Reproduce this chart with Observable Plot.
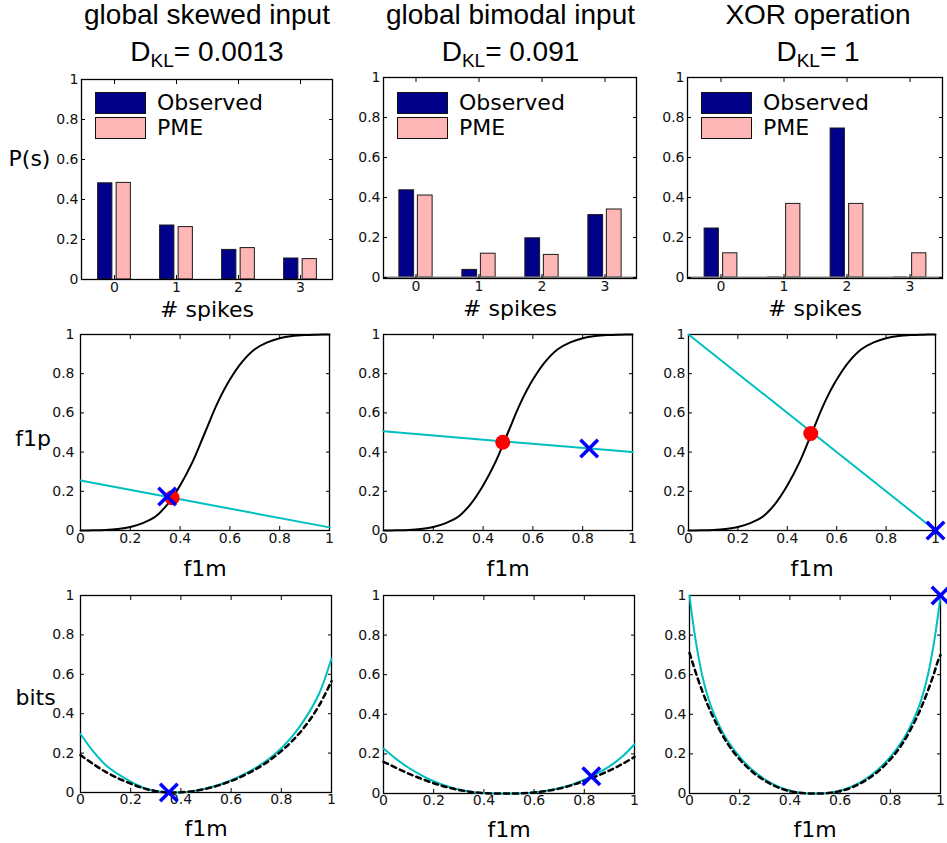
<!DOCTYPE html>
<html>
<head>
<meta charset="utf-8">
<script src="https://cdn.jsdelivr.net/npm/d3@7"></script>
<script src="https://cdn.jsdelivr.net/npm/@observablehq/plot@0.6"></script>
<style>
  html, body { margin: 0; padding: 0; background: #ffffff; }
  #root { position: relative; width: 947px; height: 843px; overflow: hidden; background: #ffffff; font-family: "DejaVu Sans", sans-serif; }
  .title { position: absolute; font-family: "Liberation Sans", Arial, Helvetica, sans-serif; font-size: 28px; line-height: 28px; white-space: nowrap; transform: translateX(-50%); color: #000; }
  .sub { font-size: 19px; position: relative; top: 6px; }
  .lgbox { position: absolute; width: 51px; height: 22px; box-sizing: border-box; border: 1.5px solid #111; }
  .lgtext { position: absolute; font-family: "DejaVu Sans", sans-serif; font-size: 22px; line-height: 22px; white-space: nowrap; color: #000; }
</style>
</head>
<body>
<div id="root"></div>
<script>
// ---------------- data ----------------
const panelTitles = ["global skewed input", "global bimodal input", "XOR operation"];
const dklValues = ["0.0013", "0.091", "1"];

const spikeCounts = [0, 1, 2, 3];
const seriesNames = ["Observed", "PME"];
const skewedObserved = [0.481, 0.270, 0.148, 0.105];
const skewedPME      = [0.483, 0.262, 0.157, 0.102];
const bimodalObserved = [0.436, 0.038, 0.196, 0.312];
const bimodalPME      = [0.410, 0.119, 0.113, 0.340];
const xorObserved = [0.245, 0.000, 0.745, 0.000];
const xorPME      = [0.121, 0.368, 0.368, 0.121];

const unitTicks = [0, 0.2, 0.4, 0.6, 0.8, 1];

const f1mGrid = [0, 0.05, 0.1, 0.15, 0.2, 0.25, 0.3, 0.35, 0.4, 0.45, 0.5,
                 0.55, 0.6, 0.65, 0.7, 0.75, 0.8, 0.85, 0.9, 0.95, 1];
const sigmoidF1p = [0, 0.001, 0.003, 0.008, 0.018, 0.038, 0.07, 0.135, 0.23, 0.35, 0.5,
                    0.65, 0.77, 0.862, 0.925, 0.96, 0.981, 0.992, 0.997, 0.999, 1];

const lineEndsF1m = [0, 1];
const skewedLineF1p  = [0.255, 0.016];
const bimodalLineF1p = [0.506, 0.400];
const xorLineF1p     = [1.000, 0.000];

const skewedFixedPoint  = [0.368, 0.167];
const bimodalFixedPoint = [0.479, 0.450];
const xorFixedPoint     = [0.495, 0.495];

const skewedMarkF1p  = [0.348, 0.173];
const bimodalMarkF1p = [0.826, 0.418];
const xorMarkF1p     = [1.000, 0.000];

const skewedBitsCyan   = [0.297, 0.21, 0.14, 0.093, 0.055, 0.025, 0.008, 0.001, 0.001, 0.007, 0.02,
                          0.038, 0.062, 0.092, 0.127, 0.17, 0.225, 0.295, 0.385, 0.5, 0.68];
const skewedBitsDashed = [0.19, 0.145, 0.105, 0.072, 0.045, 0.022, 0.007, 0, 0.001, 0.007, 0.019,
                          0.036, 0.058, 0.086, 0.12, 0.16, 0.21, 0.27, 0.345, 0.44, 0.565];
const bimodalBitsCyan   = [0.227, 0.175, 0.13, 0.093, 0.062, 0.038, 0.02, 0.008, 0.002, 0, 0,
                           0.001, 0.005, 0.014, 0.027, 0.045, 0.07, 0.1, 0.137, 0.185, 0.249];
const bimodalBitsDashed = [0.16, 0.13, 0.1, 0.075, 0.052, 0.033, 0.018, 0.008, 0.002, 0, 0,
                           0.001, 0.005, 0.013, 0.025, 0.042, 0.064, 0.088, 0.116, 0.148, 0.185];

const xorF1mGrid = [0, 0.01, 0.025, 0.05, 0.075, 0.1, 0.15, 0.2, 0.25, 0.3, 0.35, 0.4, 0.45, 0.5,
                    0.55, 0.6, 0.65, 0.7, 0.75, 0.8, 0.85, 0.9, 0.925, 0.95, 0.975, 0.99, 1];
const xorBitsCyan   = [1, 0.9, 0.77, 0.6, 0.48, 0.395, 0.27, 0.185, 0.12, 0.072, 0.037, 0.014, 0.003, 0,
                       0.003, 0.014, 0.037, 0.072, 0.12, 0.185, 0.27, 0.395, 0.48, 0.6, 0.77, 0.9, 1];
const xorBitsDashed = [0.71, 0.67, 0.61, 0.52, 0.44, 0.37, 0.255, 0.172, 0.11, 0.065, 0.032, 0.012, 0.002, 0,
                       0.002, 0.012, 0.032, 0.065, 0.11, 0.172, 0.255, 0.37, 0.44, 0.52, 0.61, 0.67, 0.70];

const skewedMarkBits  = [0.352, 0.000];
const bimodalMarkBits = [0.828, 0.087];
const xorMarkBits     = [1.000, 1.000];

// ---------------- styling / layout ----------------
const colors = { Observed: "#00008b", PME: "#ffb6b6", cyan: "#00bfbf", red: "#ff0000", blue: "#0000ff" };
const frames = {
  bars: [{l: 81, t: 79, r: 332, b: 279}, {l: 383, t: 77, r: 636, b: 278}, {l: 687, t: 77, r: 942, b: 278}],
  f1p:  [{l: 80, t: 334, r: 329, b: 530}, {l: 383, t: 334, r: 632, b: 530}, {l: 688, t: 334, r: 935, b: 530}],
  bits: [{l: 80, t: 595, r: 331, b: 792}, {l: 383, t: 595, r: 634, b: 793}, {l: 689, t: 595, r: 940, b: 793}]
};
const titleShift = [0.5, 1, 3.5];
const TICK_FONT = 14;
const LABEL_FONT = 22;

const root = document.getElementById("root");
function place(el, left, top) {
  el.style.position = "absolute";
  el.style.left = left + "px";
  el.style.top = top + "px";
  root.appendChild(el);
}
const fmt = d => String(d);

function frameAxes(opts) {
  const {xBand = false, yPad = 4, xPad = 7} = opts;
  const common = {tickSize: -4, label: null, fontSize: TICK_FONT, fill: "#111"};
  const out = [
    Plot.frame({stroke: "#000", strokeWidth: 1.3}),
    Plot.axisY(unitTicks, {anchor: "left", tickPadding: yPad + 4, tickFormat: fmt, ...common}),
    Plot.axisY(unitTicks, {anchor: "right", tickFormat: () => "", ...common})
  ];
  if (xBand) {
    out.push(Plot.axisX({anchor: "bottom", tickPadding: xPad + 4, ...common}));
    out.push(Plot.axisX({anchor: "top", tickFormat: () => "", ...common}));
  } else {
    out.push(Plot.axisX(unitTicks, {anchor: "bottom", tickPadding: xPad + 4, tickFormat: fmt, ...common}));
    out.push(Plot.axisX(unitTicks, {anchor: "top", tickFormat: () => "", ...common}));
  }
  return out;
}

function render(fr, col, x, y, marks) {
  const svgLeft = col === 0 ? 0 : fr.l - 55;
  const mL = fr.l - svgLeft, mT = 20, mR = 12, mB = 50;
  const chart = Plot.plot({
    width: mL + (fr.r - fr.l) + mR,
    height: mT + (fr.b - fr.t) + mB,
    marginLeft: mL, marginTop: mT, marginRight: mR, marginBottom: mB,
    style: {background: "none", overflow: "visible", fontFamily: "'DejaVu Sans', sans-serif", fontSize: "14px", color: "#000", maxWidth: "none"},
    x, y,
    marks
  });
  place(chart, svgLeft, fr.t - mT);
}

function sideLabel(text, dx, dy) {
  return Plot.text([text], {text: d => d, frameAnchor: "left", textAnchor: "middle", lineAnchor: "middle", dx, dy, fontSize: LABEL_FONT, fill: "#000"});
}
function bottomLabel(text, dy) {
  return Plot.text([text], {text: d => d, frameAnchor: "bottom", textAnchor: "middle", lineAnchor: "middle", dy, fontSize: LABEL_FONT, fill: "#000"});
}

// ---------------- titles ----------------
panelTitles.forEach((t, i) => {
  const fr = frames.bars[i];
  const cx = (fr.l + fr.r) / 2 + titleShift[i];
  const a = document.createElement("div");
  a.className = "title";
  a.textContent = t;
  place(a, cx, 1.3);
  const b = document.createElement("div");
  b.className = "title";
  b.innerHTML = 'D<span class="sub">KL</span>= ' + dklValues[i];
  place(b, cx, 38.3);
});

// ---------------- row 1: spike-count distributions ----------------
function barPanel(col, observed, pme, zeroLine) {
  const fr = frames.bars[col];
  const bw = (fr.r - fr.l) / spikeCounts.length;
  const barW = 15, gap = 3.5;
  const obs = spikeCounts.map((s, i) => ({spike: s, series: seriesNames[0], p: observed[i]}));
  const pm = spikeCounts.map((s, i) => ({spike: s, series: seriesNames[1], p: pme[i]}));
  const obsInset = {insetLeft: bw / 2 - gap / 2 - barW, insetRight: bw / 2 + gap / 2};
  const pmeInset = {insetLeft: bw / 2 + gap / 2, insetRight: bw / 2 - gap / 2 - barW};
  const marks = [
    Plot.barY(obs, {x: "spike", y: "p", fill: colors.Observed, stroke: "#1a1a1a", strokeWidth: 1, ...obsInset}),
    Plot.barY(pm, {x: "spike", y: "p", fill: colors.PME, stroke: "#1a1a1a", strokeWidth: 1, ...pmeInset}),
    Plot.tickY(obs.filter(d => d.p === 0), {x: "spike", y: "p", stroke: "#111", strokeWidth: 2, ...obsInset}),
    zeroLine ? Plot.ruleY([0], {stroke: "#888", strokeWidth: 2}) : null,
    ...frameAxes({xBand: true, yPad: 3, xPad: 3}),
    bottomLabel("# spikes", 30),
    col === 0 ? sideLabel("P(s)", -52, -21) : null
  ];
  render(fr, col,
    {type: "band", domain: spikeCounts, padding: 0},
    {domain: zeroLine ? [-0.005, 1] : [0, 1]},
    marks);

  // legend (upper left)
  const lx = fr.l + 14, ly = 92;
  seriesNames.forEach((name, k) => {
    const box = document.createElement("div");
    box.className = "lgbox";
    box.style.background = colors[name];
    place(box, lx, ly + 25 * k);
    const tx = document.createElement("div");
    tx.className = "lgtext";
    tx.textContent = name;
    place(tx, lx + 62, ly + 25 * k);
  });
}
barPanel(0, skewedObserved, skewedPME, false);
barPanel(1, bimodalObserved, bimodalPME, true);
barPanel(2, xorObserved, xorPME, true);

// ---------------- row 2: f1p vs f1m ----------------
function f1pPanel(col, lineF1p, fixedPt, markPt) {
  const fr = frames.f1p[col];
  const marks = [
    ...frameAxes({yPad: col === 0 ? 6 : 3, xPad: 3}),
    Plot.line(f1mGrid, {x: d => d, y: (d, i) => sigmoidF1p[i], stroke: "#000", strokeWidth: 2, curve: "catmull-rom"}),
    Plot.line(lineEndsF1m, {x: d => d, y: (d, i) => lineF1p[i], stroke: colors.cyan, strokeWidth: 2}),
    Plot.dot([fixedPt], {x: d => d[0], y: d => d[1], r: 7.5, fill: colors.red, stroke: "none"}),
    Plot.dot([markPt], {x: d => d[0], y: d => d[1], symbol: "times", r: 8, fill: "none", stroke: colors.blue, strokeWidth: 3.5}),
    bottomLabel("f1m", 38),
    col === 0 ? sideLabel("f1p", -47.5, 6) : null
  ];
  render(fr, col, {domain: [0, 1]}, {domain: [0, 1]}, marks);
}
f1pPanel(0, skewedLineF1p, skewedFixedPoint, skewedMarkF1p);
f1pPanel(1, bimodalLineF1p, bimodalFixedPoint, bimodalMarkF1p);
f1pPanel(2, xorLineF1p, xorFixedPoint, xorMarkF1p);

// ---------------- row 3: bits vs f1m ----------------
function bitsPanel(col, grid, cyan, dashed, markPt) {
  const fr = frames.bits[col];
  const marks = [
    ...frameAxes({yPad: col === 0 ? 6 : 3, xPad: 2}),
    Plot.line(grid, {x: d => d, y: (d, i) => cyan[i], stroke: colors.cyan, strokeWidth: 2, curve: "catmull-rom"}),
    Plot.line(grid, {x: d => d, y: (d, i) => dashed[i], stroke: "#000", strokeWidth: 2.5, strokeDasharray: "5,4", curve: "catmull-rom"}),
    Plot.dot([markPt], {x: d => d[0], y: d => d[1], symbol: "times", r: 8, fill: "none", stroke: colors.blue, strokeWidth: 3.5}),
    bottomLabel("f1m", 36),
    col === 0 ? sideLabel("bits", -45, 3.5) : null
  ];
  render(fr, col, {domain: [0, 1]}, {domain: [0, 1]}, marks);
}
bitsPanel(0, f1mGrid, skewedBitsCyan, skewedBitsDashed, skewedMarkBits);
bitsPanel(1, f1mGrid, bimodalBitsCyan, bimodalBitsDashed, bimodalMarkBits);
bitsPanel(2, xorF1mGrid, xorBitsCyan, xorBitsDashed, xorMarkBits);
</script>
</body>
</html>
